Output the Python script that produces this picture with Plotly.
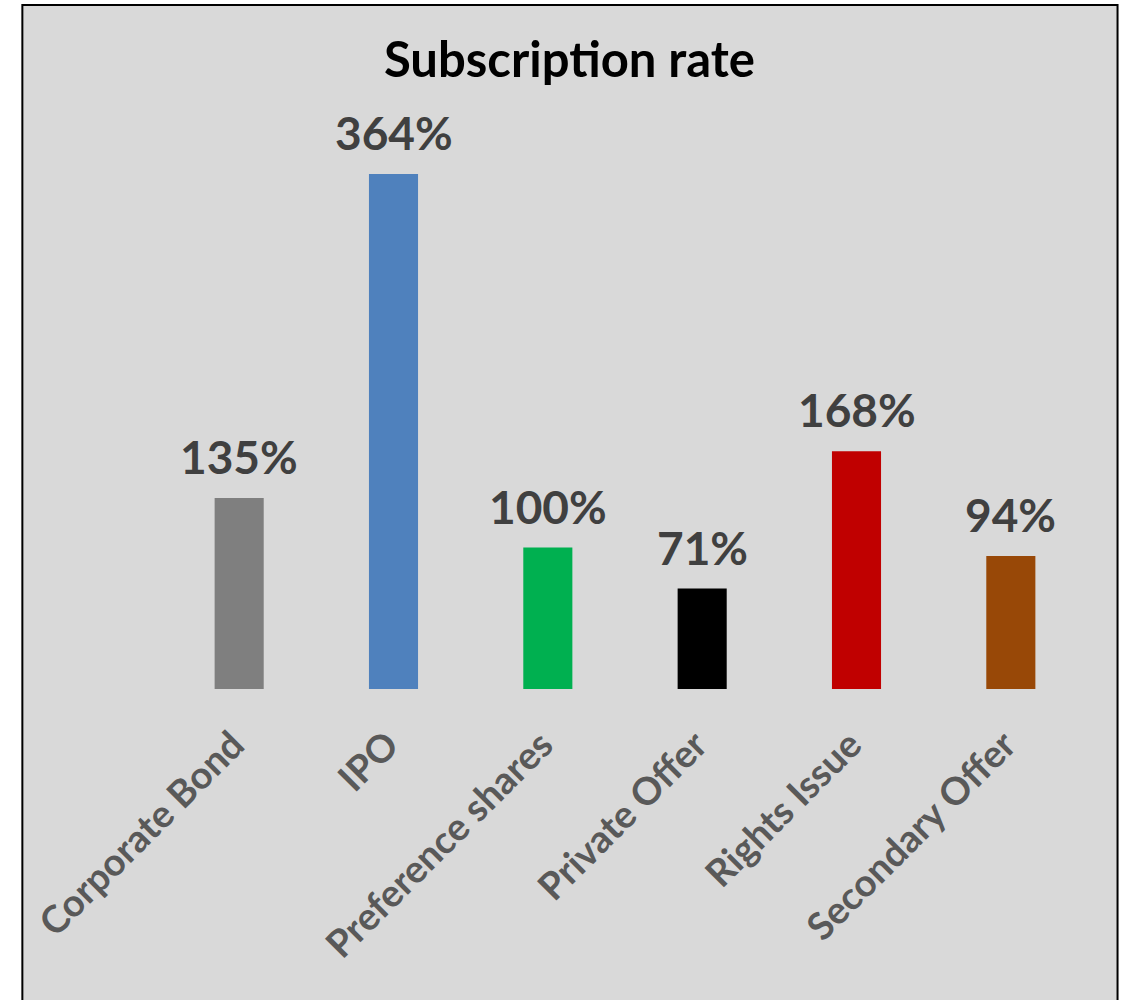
import plotly.graph_objects as go

categories = ["Corporate Bond", "IPO", "Preference shares", "Private Offer", "Rights Issue", "Secondary Offer"]
values = [135, 364, 100, 71, 168, 94]
labels = ["135%", "364%", "100%", "71%", "168%", "94%"]
colors = ["#7F7F7F", "#4F81BD", "#00B050", "#000000", "#C00000", "#984807"]

FONT = "Lato"

fig = go.Figure(
    go.Bar(
        x=categories,
        y=values,
        marker=dict(color=colors, line=dict(width=0)),
        width=0.318,
        hoverinfo="skip",
    )
)

annotations = [
    dict(
        x=c,
        y=v,
        xref="x",
        yref="y",
        text="<b>%s</b>" % t,
        showarrow=False,
        yanchor="bottom",
        xanchor="center",
        yshift=12,
        font=dict(family=FONT, size=46, color="#404040"),
    )
    for c, v, t in zip(categories, values, labels)
]

fig.update_layout(
    width=1127,
    height=1000,
    margin=dict(l=162, r=39, t=123, b=311),
    paper_bgcolor="white",
    plot_bgcolor="rgba(0,0,0,0)",
    showlegend=False,
    annotations=annotations,
    title=dict(
        text="<b>Subscription rate</b>",
        x=0.5053,
        xanchor="center",
        xref="container",
        y=0.94,
        yanchor="middle",
        yref="container",
        font=dict(family=FONT, size=49, color="#000000"),
    ),
    xaxis=dict(
        tickangle=-45,
        tickfont=dict(family=FONT, size=38, color="#595959", weight="bold"),
        showline=False,
        ticks="",
        showgrid=False,
        ticklabelstandoff=25,
        ticklabelshift=-6,
    ),
    yaxis=dict(
        range=[0, 400],
        visible=False,
        showgrid=False,
    ),
    shapes=[
        dict(
            type="rect",
            xref="paper",
            yref="paper",
            x0=-0.1508,
            x1=1.0319,
            y0=-0.57,
            y1=1.2085,
            fillcolor="#D9D9D9",
            line=dict(color="#000000", width=2),
            layer="below",
        )
    ],
)

fig.write_html(
    "out.html",
    config={"displayModeBar": False},
    post_script="document.body.style.margin='0';",
)
